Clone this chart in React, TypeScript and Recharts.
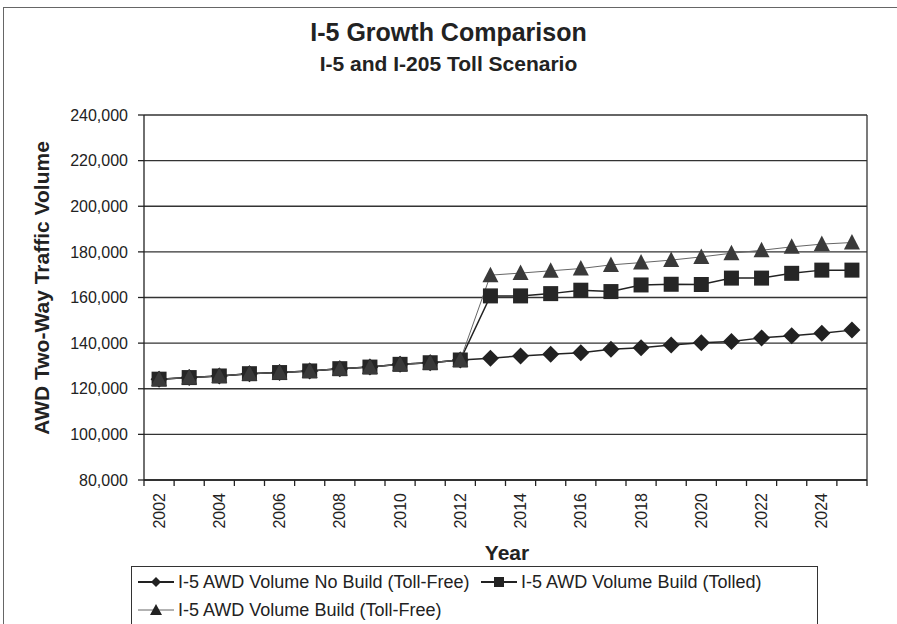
import { LineChart, Line, XAxis, YAxis, CartesianGrid, ReferenceLine } from 'recharts'

const years = [2002, 2003, 2004, 2005, 2006, 2007, 2008, 2009, 2010, 2011, 2012, 2013,
  2014, 2015, 2016, 2017, 2018, 2019, 2020, 2021, 2022, 2023, 2024, 2025]

const noBuild = [124200, 124900, 125600, 126600, 127100, 127800, 128800, 129500, 130700, 131400, 132600,
  133400, 134400, 135100, 135800, 137300, 138000, 139200, 140200, 140700, 142300, 143200, 144300, 145700]

const tolled = [124200, 124900, 125600, 126600, 127100, 127800, 128800, 129500, 130700, 131400, 132600,
  160700, 160700, 161700, 163200, 162600, 165500, 165800, 165700, 168500, 168500, 170600, 172000, 172000]

const buildFree = [124200, 124900, 125600, 126600, 127100, 127800, 128800, 129500, 130700, 131400, 132600,
  169800, 170700, 171700, 172700, 174300, 175300, 176400, 177800, 179400, 180700, 182200, 183400, 184100]

const yTicks = [80000, 100000, 120000, 140000, 160000, 180000, 200000, 220000, 240000]
const xLabelYears = [2002, 2004, 2006, 2008, 2010, 2012, 2014, 2016, 2018, 2020, 2022, 2024]

const data = years.map((year, i) => ({
  year,
  noBuild: noBuild[i],
  tolled: tolled[i],
  buildFree: buildFree[i],
}))

// tick marks sit on the category boundaries, labels on the even years
const boundaries = [...years.map(y => y - 0.5), years[years.length - 1] + 0.5]
const xTicks = [...boundaries, ...xLabelYears].sort((a, b) => a - b)

const FONT = '"Liberation Sans", Arial, sans-serif'
const INK = '#222'

const XTick = ({ x, y, payload }: any) => {
  const v = payload.value as number
  if (v % 1 !== 0) {
    return <line x1={x} y1={y} x2={x} y2={y + 6} stroke={INK} strokeWidth={1.3} />
  }
  return (
    <text x={x} y={y + 13} transform={`rotate(-90 ${x} ${y + 13})`} textAnchor="end"
      dominantBaseline="central" fontSize={16} fill={INK} fontFamily={FONT}>
      {v}
    </text>
  )
}

const diamond = (p: any) => {
  const { cx, cy, index } = p
  if (cx == null || cy == null) return <g key={`d${index}`} />
  return <path key={`d${index}`} d={`M${cx},${cy - 8.5}L${cx + 8.5},${cy}L${cx},${cy + 8.5}L${cx - 8.5},${cy}Z`} fill={INK} />
}

const square = (p: any) => {
  const { cx, cy, index } = p
  if (cx == null || cy == null) return <g key={`s${index}`} />
  return <rect key={`s${index}`} x={cx - 7.5} y={cy - 7.5} width={15} height={15} fill="#262626" />
}

const triangle = (p: any) => {
  const { cx, cy, index } = p
  if (cx == null || cy == null) return <g key={`t${index}`} />
  return <path key={`t${index}`} d={`M${cx},${cy - 8.5}L${cx + 8},${cy + 7}L${cx - 8},${cy + 7}Z`} fill="#3a3a3a" />
}

const LegendIcon = ({ kind }: { kind: 'diamond' | 'square' | 'triangle' }) => (
  <svg width={36} height={14} style={{ marginRight: 4, flex: 'none' }}>
    <line x1={0} y1={7} x2={36} y2={7} stroke={kind === 'triangle' ? '#666' : INK} strokeWidth={kind === 'triangle' ? 1 : 2} />
    {kind === 'diamond' && <path d="M18,2L23,7L18,12L13,7Z" fill={INK} />}
    {kind === 'square' && <rect x={13} y={2} width={10} height={10} fill={INK} />}
    {kind === 'triangle' && <path d="M18,1L24,12L12,12Z" fill={INK} />}
  </svg>
)

const legendRow = { position: 'absolute' as const, display: 'flex', alignItems: 'center', whiteSpace: 'nowrap' as const, fontSize: 18, color: INK, fontFamily: FONT, height: 24 }

export default function App() {
  return (
    <div style={{ position: 'absolute', left: 0, top: 0, width: 897, height: 624, overflow: 'hidden', background: '#fff', fontFamily: FONT }}>
      <div style={{ position: 'absolute', left: 3, top: 7, width: 900, height: 700, borderTop: '1.5px solid #666', borderLeft: '1.5px solid #666' }} />
      <div style={{ position: 'absolute', left: 0, width: 897, top: 16, textAlign: 'center', fontSize: 25, fontWeight: 'bold', color: INK, lineHeight: '32px' }}>
        I-5 Growth Comparison
      </div>
      <div style={{ position: 'absolute', left: 0, width: 897, top: 51, textAlign: 'center', fontSize: 21, fontWeight: 'bold', color: INK, lineHeight: '26px' }}>
        I-5 and I-205 Toll Scenario
      </div>
      <div style={{ position: 'absolute', left: 42, top: 288, transform: 'translate(-50%, -50%) rotate(-90deg)', fontSize: 21, fontWeight: 'bold', color: INK, whiteSpace: 'nowrap' }}>
        AWD Two-Way Traffic Volume
      </div>
      <div style={{ position: 'absolute', left: 507, top: 553, transform: 'translate(-50%, -50%)', fontSize: 21, fontWeight: 'bold', color: INK }}>
        Year
      </div>

      <div style={{ position: 'absolute', left: 0, top: 0 }}>
        <LineChart width={897} height={624} data={data} margin={{ top: 115, right: 30, bottom: 104, left: 44 }}>
          <CartesianGrid vertical={false} stroke="#333" strokeWidth={1.3} horizontalValues={yTicks} />
          <XAxis dataKey="year" type="number" domain={[boundaries[0], boundaries[boundaries.length - 1]]}
            ticks={xTicks} interval={0} tick={<XTick />} tickLine={false} tickSize={0} tickMargin={0}
            height={40} axisLine={{ stroke: INK, strokeWidth: 1.3 }} />
          <YAxis domain={[80000, 240000]} ticks={yTicks} width={100} tickSize={6} tickMargin={10}
            tickFormatter={(v: number) => v.toLocaleString('en-US')}
            tick={{ fontSize: 16, fill: INK, fontFamily: FONT }}
            axisLine={{ stroke: INK, strokeWidth: 1.3 }} tickLine={{ stroke: INK, strokeWidth: 1.3 }} />
          <ReferenceLine x={boundaries[boundaries.length - 1]} stroke="#333" strokeWidth={1.3} />
          <Line dataKey="noBuild" type="linear" stroke={INK} strokeWidth={1.5} dot={diamond} activeDot={false} isAnimationActive={false} />
          <Line dataKey="tolled" type="linear" stroke={INK} strokeWidth={1.5} dot={square} activeDot={false} isAnimationActive={false} />
          <Line dataKey="buildFree" type="linear" stroke="#666" strokeWidth={1} dot={triangle} activeDot={false} isAnimationActive={false} />
        </LineChart>
      </div>

      <div style={{ position: 'absolute', left: 131, top: 566, width: 685, height: 80, border: '1.3px solid #333' }} />
      <div style={{ ...legendRow, left: 138, top: 570 }}>
        <LegendIcon kind="diamond" />I-5 AWD Volume No Build (Toll-Free)
      </div>
      <div style={{ ...legendRow, left: 481, top: 570 }}>
        <LegendIcon kind="square" />I-5 AWD Volume Build (Tolled)
      </div>
      <div style={{ ...legendRow, left: 138, top: 598 }}>
        <LegendIcon kind="triangle" />I-5 AWD Volume Build (Toll-Free)
      </div>
    </div>
  )
}
